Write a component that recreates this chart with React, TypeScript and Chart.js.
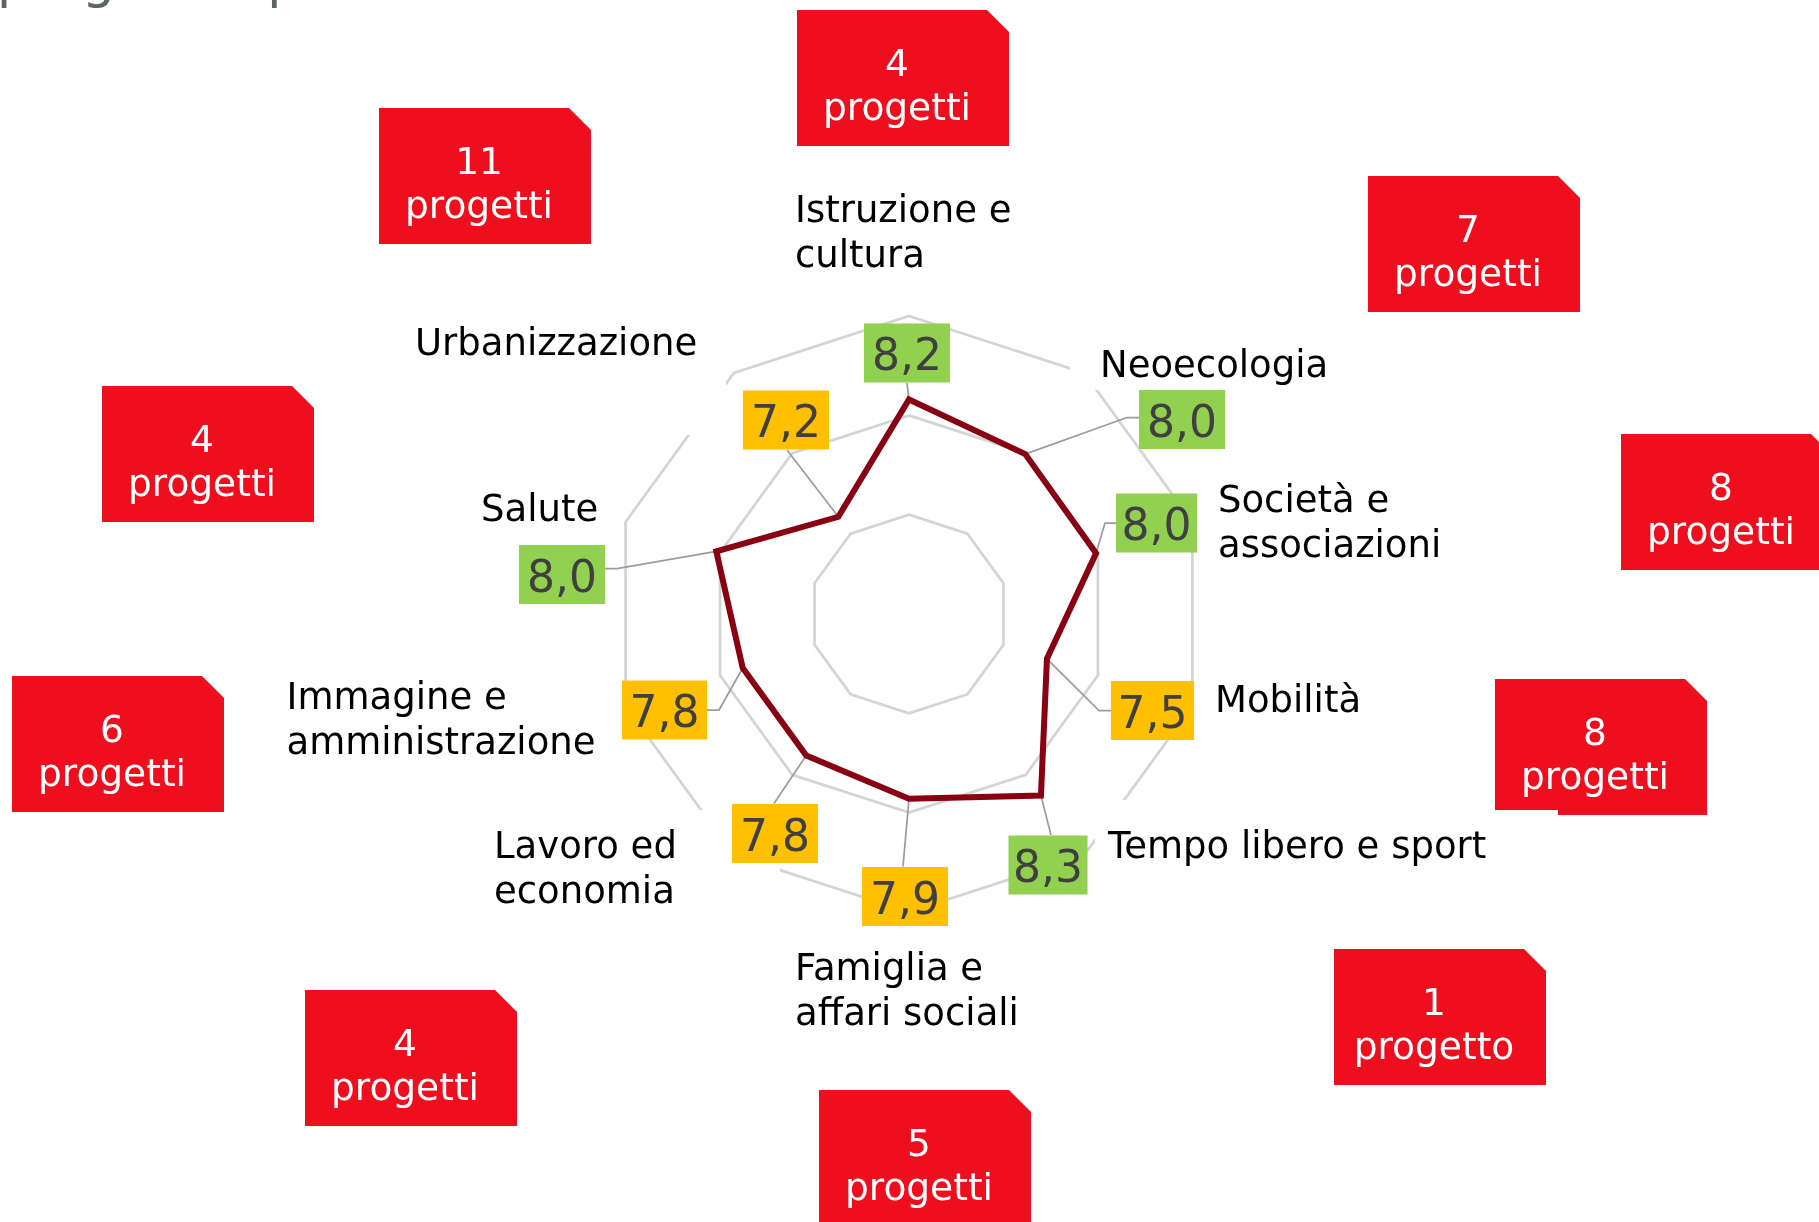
import React, { useEffect, useRef } from "react";
import { Chart, registerables } from "chart.js";

Chart.register(...registerables);

// ---------- data ----------
const categories: string[][] = [
  ["Istruzione e", "cultura"],
  ["Neoecologia"],
  ["Società e", "associazioni"],
  ["Mobilità"],
  ["Tempo libero e sport"],
  ["Famiglia e", "affari sociali"],
  ["Lavoro ed", "economia"],
  ["Immagine e", "amministrazione"],
  ["Salute"],
  ["Urbanizzazione"],
];
const scores = [8.16, 7.99, 7.98, 7.46, 8.26, 7.86, 7.76, 7.76, 8.04, 7.21];
const projectCounts = [4, 7, 8, 8, 1, 5, 4, 6, 4, 11];
const scaleMin = 6;
const scaleMax = 9;
const scaleStep = 1;
const titleText = "progetti e preferenze medie";

// ---------- layout (offsets from the radar centre, px) ----------
const LABEL_POS = [
  [-114, -392], [191, -237], [309, -102], [306, 98], [199, 244],
  [-114, 366], [-415, 244], [-622.5, 95], [-428, -93], [-494, -259],
];
const LABEL_BACKDROP: (number[] | null)[] = [
  null, [161, -284, 270, 60], null, null, [186, 186, 405, 80],
  null, [-425, 196, 296, 110], null, null, [-504, -314, 321, 135],
];
const VALUE_BOX = [
  [-2, -261, 86], [273, -194.5, 86], [247.5, -91, 81], [243.5, 96.5, 83], [139, 251, 79],
  [-4, 282.5, 86], [-134, 219.5, 86], [-244.5, 96, 85], [-347, -39.5, 86], [-123, -194, 86],
];
const LEADER = [
  [0, 30, 0], [-43, -2, -12], [-40.5, 0, -11], [-41.5, 0, -12], [3, -30, 0],
  [-2, -30, 0], [-1, -30, 0], [42.5, 0, 12], [43, -6, 12], [1, 30, 0],
];
const RED_BOX = [
  [-112, -604, 0, 0], [459, -438, 0, 0], [712, -180, 0, 0], [586, 65, 63, 5], [425, 335, 0, 0],
  [-90, 476, 0, 0], [-604, 376, 0, 0], [-897, 62, 0, 0], [-807, -228, 0, 0], [-530, -506, 0, 0],
];

const FONT = "'DejaVu Sans', Verdana, sans-serif";
const LINE_COLOR = "#880011";
const GRID_COLOR = "#D4D4D4";
const LEADER_COLOR = "#9C9C9C";
const GREEN = "#92D050";
const YELLOW = "#FFC000";
const RED = "#EE0E1E";
const VALUE_H = 59;
const RED_W = 212;
const RED_H = 136;
const RED_CUT = 22;

const fmt = (v: number) => v.toFixed(1).replace(".", ",");

export default function App() {
  const ref = useRef<HTMLCanvasElement>(null);

  useEffect(() => {
    const canvas = ref.current;
    if (!canvas) return;

    const overlay = {
      id: "overlay",
      beforeDatasetsDraw(chart: any) {
        const ctx = chart.ctx as CanvasRenderingContext2D;
        const s = chart.scales.r;
        const cx = s.xCenter, cy = s.yCenter;
        const meta = chart.getDatasetMeta(0);
        ctx.save();
        ctx.fillStyle = "#FFFFFF";
        LABEL_BACKDROP.forEach((b) => {
          if (b) ctx.fillRect(cx + b[0], cy + b[1], b[2], b[3]);
        });
        ctx.strokeStyle = LEADER_COLOR;
        ctx.lineWidth = 1.75;
        meta.data.forEach((pt: any, i: number) => {
          const [bx, by] = VALUE_BOX[i];
          const [ax, ay, el] = LEADER[i];
          const x1 = cx + bx + ax, y1 = cy + by + ay;
          ctx.beginPath();
          ctx.moveTo(pt.x, pt.y);
          if (el) ctx.lineTo(x1 + el, y1);
          ctx.lineTo(x1, y1);
          ctx.stroke();
        });
        ctx.restore();
      },
      afterDatasetsDraw(chart: any) {
        const ctx = chart.ctx as CanvasRenderingContext2D;
        const s = chart.scales.r;
        const cx = s.xCenter, cy = s.yCenter;
        ctx.save();

        // value boxes
        scores.forEach((v, i) => {
          const [bx, by, w] = VALUE_BOX[i];
          const x = cx + bx, y = cy + by;
          ctx.fillStyle = Math.round(v * 10) / 10 >= 8 ? GREEN : YELLOW;
          ctx.fillRect(x - w / 2, y - VALUE_H / 2, w, VALUE_H);
          ctx.fillStyle = "#404040";
          ctx.font = `44px ${FONT}`;
          ctx.textAlign = "center";
          ctx.textBaseline = "alphabetic";
          ctx.fillText(fmt(v), x, y + 17);
        });

        // category labels
        ctx.fillStyle = "#000000";
        ctx.font = `37px ${FONT}`;
        ctx.textAlign = "left";
        categories.forEach((lines, i) => {
          const [lx, ly] = LABEL_POS[i];
          lines.forEach((t, k) => ctx.fillText(t, cx + lx, cy + ly + k * 45));
        });

        // red project boxes
        projectCounts.forEach((n, i) => {
          const [rx, ry, nw, nh] = RED_BOX[i];
          const l = cx + rx, t = cy + ry, r = l + RED_W, b = t + RED_H;
          ctx.fillStyle = RED;
          ctx.beginPath();
          ctx.moveTo(l, t);
          ctx.lineTo(r - RED_CUT, t);
          ctx.lineTo(r, t + RED_CUT);
          ctx.lineTo(r, b);
          if (nw) {
            ctx.lineTo(l + nw, b);
            ctx.lineTo(l + nw, b - nh);
            ctx.lineTo(l, b - nh);
          } else {
            ctx.lineTo(l, b);
          }
          ctx.closePath();
          ctx.fill();
          ctx.fillStyle = "#FFFFFF";
          ctx.font = `37.5px ${FONT}`;
          ctx.textAlign = "center";
          const tx = l + RED_W / 2 - 6;
          ctx.fillText(String(n), tx, t + 66);
          ctx.fillText(n === 1 ? "progetto" : "progetti", tx, t + 110);
        });

        // title (mostly above the visible page)
        ctx.fillStyle = "#5B6660";
        ctx.font = `52px ${FONT}`;
        ctx.textAlign = "left";
        ctx.fillText(titleText, -3, -3);

        ctx.restore();
      },
    };

    const chart = new Chart(canvas, {
      type: "radar",
      data: {
        labels: categories.map((c) => c.join(" ")),
        datasets: [
          {
            data: scores,
            borderColor: LINE_COLOR,
            backgroundColor: "rgba(0,0,0,0)",
            borderWidth: 6,
            borderJoinStyle: "miter",
            fill: false,
            pointRadius: 0,
            pointHoverRadius: 0,
          },
        ],
      },
      options: {
        responsive: false,
        animation: false,
        devicePixelRatio: 1,
        layout: { padding: { left: 611, right: 611, top: 316, bottom: 309 } },
        plugins: {
          legend: { display: false },
          tooltip: { enabled: false },
          title: { display: false },
        },
        scales: {
          r: {
            min: scaleMin,
            max: scaleMax,
            ticks: { stepSize: scaleStep, display: false },
            grid: { color: GRID_COLOR, lineWidth: 2.75, circular: false },
            angleLines: { display: false },
            pointLabels: { display: false },
          },
        },
      },
      plugins: [overlay],
    } as any);

    return () => chart.destroy();
  }, []);

  return (
    <div style={{ position: "absolute", left: 0, top: 0, width: 1819, height: 1222, background: "#fff", overflow: "hidden" }}>
      <canvas ref={ref} width={1819} height={1222} style={{ display: "block" }} />
    </div>
  );
}
